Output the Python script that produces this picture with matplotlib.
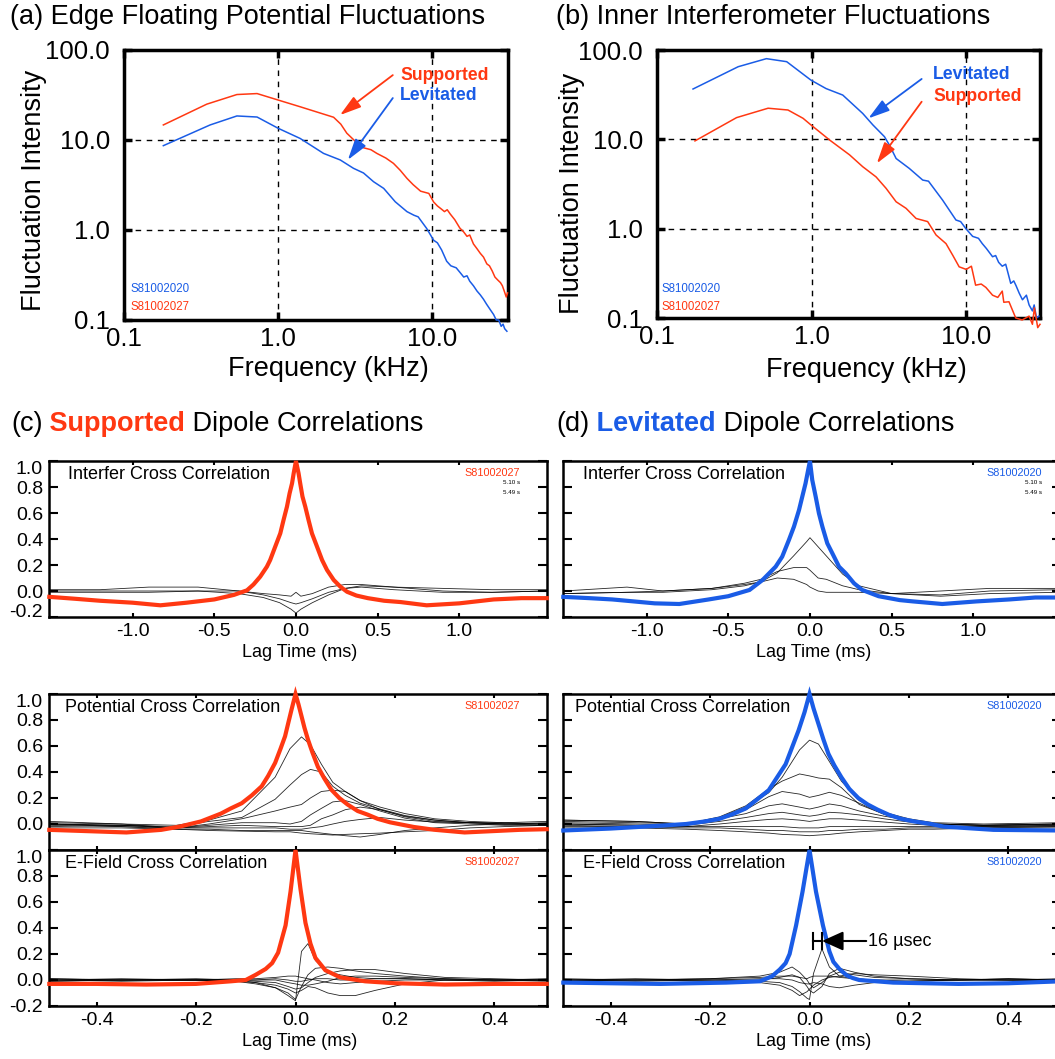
import matplotlib.pyplot as plt

plt.rcParams['font.family'] = ['Liberation Sans', 'DejaVu Sans']

RED = '#ff3812'
BLUE = '#1a5ce6'

# ---------------- (a) edge floating potential spectra
a_lev_freq = [0.18, 0.362, 0.54, 0.73, 1.0, 1.39, 1.97, 2.53, 3.08, 3.58, 4.16, 4.84,
              5.75, 6.85, 7.6, 8.1, 9.2, 10.2, 10.8, 11.5, 12.4, 13.2, 14.3, 15.3, 16.0,
              16.8, 17.5, 18.5, 19.5, 20.5, 21.5, 22.5, 23.8, 25.0, 26.0, 27.0, 28.0,
              28.8, 29.5, 30.5]
a_lev_amp = [8.65, 14.7, 18.5, 18.0, 13.5, 10.4, 7.1, 6.0, 4.85, 4.3, 3.44, 2.9,
             2.06, 1.6, 1.46, 1.4, 1.04, 0.77, 0.72, 0.6, 0.45, 0.4, 0.38, 0.33, 0.3,
             0.31, 0.27, 0.24, 0.21, 0.19, 0.17, 0.15, 0.13, 0.115, 0.1, 0.1, 0.085,
             0.09, 0.08, 0.075]
a_sup_freq = [0.18, 0.344, 0.54, 0.73, 1.0, 1.39, 2.29, 2.55, 2.79, 3.2, 3.58, 4.0,
              4.37, 5.0, 5.6, 6.2, 6.85, 7.5, 8.4, 9.5, 10.2, 10.8, 11.5, 12.0, 12.5,
              13.1, 14.0, 15.1, 16.0, 16.8, 17.5, 18.5, 19.5, 20.5, 21.5, 22.6, 23.5,
              24.5, 25.5, 26.5, 27.7, 28.5, 29.3, 30.2, 30.8]
a_sup_amp = [14.7, 25.0, 32.0, 32.8, 27.8, 23.4, 17.9, 15.0, 11.9, 9.5, 8.2, 7.8,
             7.1, 6.3, 5.5, 4.6, 3.75, 3.2, 2.7, 2.55, 2.05, 1.85, 1.7, 1.6, 1.68,
             1.5, 1.3, 1.05, 0.95, 0.85, 0.88, 0.7, 0.62, 0.55, 0.5, 0.42, 0.4,
             0.35, 0.3, 0.28, 0.26, 0.24, 0.21, 0.18, 0.2]

# ---------------- (b) inner interferometer spectra
b_lev_freq = [0.171, 0.335, 0.51, 0.69, 0.99, 1.24, 1.59, 2.14, 2.49, 2.96, 3.2, 3.52,
              4.28, 5.23, 5.7, 7.03, 8.58, 9.2, 9.95, 11.0, 12.0, 12.7, 13.5, 14.8,
              15.5, 16.2, 17.1, 18.0, 19.4, 20.3, 21.0, 22.0, 23.1, 24.5, 25.5, 26.8,
              27.5, 28.5, 29.5]
b_lev_amp = [36.6, 65, 80, 74, 46, 37, 31.3, 19.5, 14.5, 10.7, 8.5, 6.1,
             4.73, 3.5, 3.4, 2.09, 1.25, 1.2, 1.0, 0.82, 0.78, 0.68, 0.6, 0.485,
             0.5, 0.42, 0.38, 0.4, 0.244, 0.26, 0.23, 0.19, 0.16, 0.18, 0.14, 0.12,
             0.14, 0.1, 0.105]
b_sup_freq = [0.176, 0.327, 0.523, 0.703, 0.88, 0.99, 1.31, 1.76, 2.14, 2.61, 3.03,
              3.52, 4.08, 4.74, 5.63, 6.38, 7.4, 8.2, 9.0, 10.0, 10.8, 11.5, 12.5,
              13.4, 14.8, 16.0, 17.1, 17.5, 18.9, 20.9, 23.0, 25.5, 26.8, 27.6, 29.0,
              30.0]
b_sup_amp = [9.6, 17.5, 22.3, 21.3, 17.2, 14.5, 9.8, 6.7, 4.94, 3.8, 2.83,
             2.0, 1.69, 1.3, 1.2, 0.85, 0.68, 0.5, 0.374, 0.35, 0.38, 0.233, 0.24,
             0.22, 0.18, 0.17, 0.2, 0.15, 0.152, 0.1, 0.095, 0.105, 0.085, 0.13, 0.078,
             0.085]

spec_xticks = [0.1, 1.0, 10.0]
spec_xlabels = ['0.1', '1.0', '10.0']
spec_yticks = [0.1, 1.0, 10.0, 100.0]
spec_ylabels = ['0.1', '1.0', '10.0', '100.0']

# ---------------- correlation panels (lag in ms)
# (c) supported, interferometer
c_int_lag = [-1.51, -1.35, -1.2, -1.0, -0.83, -0.67, -0.5, -0.38, -0.3, -0.26, -0.219,
             -0.178, -0.158, -0.127, -0.096, -0.076, -0.055, -0.039, -0.024, -0.014, 0.0,
             0.016, 0.026, 0.04, 0.057, 0.077, 0.098, 0.129, 0.16, 0.19, 0.231, 0.272,
             0.313, 0.37, 0.44, 0.54, 0.64, 0.8, 1.0, 1.21, 1.38, 1.535]
c_int_main = [-0.045, -0.06, -0.075, -0.09, -0.11, -0.09, -0.065, -0.03, 0.005, 0.05,
              0.11, 0.187, 0.238, 0.341, 0.443, 0.546, 0.649, 0.751, 0.828, 0.905, 1.0,
              0.905, 0.828, 0.726, 0.649, 0.546, 0.443, 0.341, 0.238, 0.162, 0.085, 0.033,
              -0.006, -0.035, -0.055, -0.075, -0.085, -0.11, -0.095, -0.065, -0.055, -0.055]
c_int_blag = [-1.51, -1.2, -0.9, -0.6, -0.35, -0.2, -0.1, -0.03, 0.0, 0.03, 0.1, 0.2,
              0.3, 0.4, 0.6, 0.9, 1.2, 1.535]
c_int_black = [
    [0.01, 0.01, 0.03, 0.03, 0.0, -0.02, -0.03, -0.04, -0.01, -0.04, -0.02, 0.03,
     0.05, 0.05, 0.03, 0.02, 0.01, 0.01],
    [0.0, 0.0, 0.0, 0.0, 0.0, -0.03, -0.06, -0.09, -0.1, -0.09, -0.06, -0.01,
     0.02, 0.03, 0.01, -0.01, -0.01, 0.0],
    [-0.01, -0.01, -0.01, 0.0, -0.02, -0.05, -0.09, -0.14, -0.17, -0.14, -0.09, -0.03,
     0.02, 0.04, 0.03, 0.0, -0.01, 0.0],
]

# (d) levitated, interferometer
d_int_lag = [-1.51, -1.35, -1.21, -0.95, -0.8, -0.62, -0.5, -0.37, -0.29, -0.21, -0.17,
             -0.129, -0.098, -0.067, -0.047, -0.027, -0.011, 0.0, 0.014, 0.035, 0.055,
             0.076, 0.106, 0.137, 0.178, 0.219, 0.27, 0.32, 0.42, 0.55, 0.63, 0.81, 1.02,
             1.22, 1.38, 1.535]
d_int_main = [-0.045, -0.055, -0.065, -0.095, -0.1, -0.065, -0.04, 0.008, 0.085, 0.187,
              0.264, 0.392, 0.495, 0.623, 0.726, 0.828, 0.931, 1.0, 0.854, 0.726, 0.597,
              0.495, 0.367, 0.29, 0.187, 0.136, 0.059, 0.008, -0.04, -0.07, -0.08, -0.1,
              -0.08, -0.065, -0.05, -0.05]
d_int_blag = [-1.51, -1.12, -0.9, -0.6, -0.4, -0.3, -0.2, -0.1, -0.02, 0.0, 0.05, 0.1,
              0.2, 0.3, 0.5, 0.8, 1.1, 1.535]
d_int_black = [
    [-0.02, -0.01, -0.01, 0.01, 0.04, 0.07, 0.14, 0.27, 0.38, 0.41, 0.34, 0.27,
     0.13, 0.04, -0.02, -0.04, -0.02, -0.01],
    [0.0, 0.03, 0.0, 0.02, 0.06, 0.09, 0.15, 0.18, 0.18, 0.16, 0.1, 0.09,
     0.04, 0.01, -0.02, -0.03, 0.0, 0.01],
    [-0.02, -0.01, 0.0, 0.02, 0.05, 0.07, 0.1, 0.09, 0.05, 0.03, 0.0, -0.01,
     -0.01, -0.01, -0.02, 0.0, 0.02, 0.02],
]

# (c) supported, floating potential
c_pot_lag = [-0.495, -0.34, -0.27, -0.233, -0.19, -0.15, -0.13, -0.108, -0.088, -0.068,
             -0.055, -0.041, -0.03, -0.021, -0.015, -0.008, 0.0, 0.006, 0.012, 0.018,
             0.025, 0.034, 0.045, 0.058, 0.072, 0.088, 0.105, 0.125, 0.145, 0.165, 0.19,
             0.238, 0.278, 0.34, 0.45, 0.505]
c_pot_main = [-0.045, -0.065, -0.045, -0.02, 0.02, 0.08, 0.12, 0.16, 0.22, 0.29, 0.37,
              0.47, 0.58, 0.675, 0.77, 0.88, 1.0, 0.92, 0.83, 0.74, 0.65, 0.55, 0.44,
              0.35, 0.264, 0.2, 0.149, 0.1, 0.072, 0.04, 0.013, -0.023, -0.044, -0.065,
              -0.045, -0.04]
c_pot_blag = [-0.495, -0.35, -0.24, -0.174, -0.108, -0.041, -0.011, 0.012, 0.03, 0.052,
              0.075, 0.1, 0.13, 0.17, 0.22, 0.28, 0.35, 0.42, 0.505]
c_pot_black = [
    [0.01, 0.0, -0.01, 0.03, 0.10, 0.36, 0.58, 0.67, 0.61, 0.46, 0.32, 0.25, 0.18,
     0.13, 0.08, 0.04, 0.02, 0.01, 0.0],
    [0.0, -0.01, -0.02, 0.02, 0.05, 0.19, 0.3, 0.38, 0.42, 0.4, 0.29, 0.22, 0.16,
     0.115, 0.065, 0.03, 0.01, 0.0, 0.0],
    [0.0, -0.01, -0.03, 0.0, 0.04, 0.1, 0.13, 0.15, 0.2, 0.25, 0.26, 0.25, 0.18,
     0.11, 0.055, 0.02, 0.01, 0.0, -0.01],
    [-0.01, -0.02, -0.03, -0.01, 0.01, 0.01, 0.0, 0.02, 0.07, 0.12, 0.17, 0.18, 0.15,
     0.1, 0.045, 0.01, 0.0, -0.01, -0.01],
    [0.02, 0.0, -0.03, -0.02, -0.01, -0.02, -0.02, -0.02, -0.01, 0.04, 0.07, 0.11, 0.13,
     0.11, 0.06, 0.03, 0.01, 0.0, 0.0],
    [-0.02, -0.01, -0.03, -0.03, -0.03, -0.03, -0.04, -0.04, -0.03, -0.02, 0.0, 0.02,
     0.035, 0.05, 0.03, 0.015, 0.01, 0.01, 0.02],
    [0.0, -0.02, -0.04, -0.04, -0.05, -0.05, -0.05, -0.05, -0.06, -0.07, -0.08, -0.09,
     -0.1, -0.08, -0.05, -0.03, -0.01, 0.0, 0.01],
    [-0.03, -0.03, -0.04, -0.05, -0.055, -0.06, -0.06, -0.07, -0.075, -0.08, -0.085,
     -0.08, -0.075, -0.07, -0.06, -0.05, -0.03, -0.02, -0.01],
]

# (d) levitated, floating potential
d_pot_lag = [-0.495, -0.4, -0.3, -0.248, -0.21, -0.181, -0.155, -0.128, -0.105, -0.082,
             -0.065, -0.048, -0.035, -0.022, -0.01, 0.0, 0.008, 0.018, 0.028, 0.038,
             0.05, 0.064, 0.08, 0.098, 0.117, 0.137, 0.16, 0.184, 0.21, 0.244, 0.27,
             0.37, 0.505]
d_pot_main = [-0.05, -0.035, -0.013, 0.0, 0.02, 0.04, 0.075, 0.12, 0.19, 0.26, 0.36,
              0.46, 0.59, 0.72, 0.86, 1.0, 0.89, 0.77, 0.65, 0.54, 0.45, 0.36, 0.27,
              0.2, 0.15, 0.11, 0.07, 0.04, 0.02, 0.0, -0.02, -0.045, -0.05]
d_pot_blag = [-0.495, -0.35, -0.248, -0.181, -0.128, -0.082, -0.055, -0.02, 0.0, 0.018,
              0.04, 0.064, 0.1, 0.15, 0.2, 0.25, 0.35, 0.505]
d_pot_black = [
    [0.03, 0.02, 0.0, 0.05, 0.13, 0.24, 0.36, 0.57, 0.645, 0.615, 0.48, 0.33, 0.18,
     0.09, 0.04, 0.01, 0.0, 0.01],
    [0.03, 0.02, 0.0, 0.055, 0.14, 0.27, 0.33, 0.385, 0.37, 0.354, 0.345, 0.28, 0.15,
     0.075, 0.03, 0.0, -0.01, 0.0],
    [0.02, 0.01, 0.0, 0.04, 0.11, 0.21, 0.25, 0.23, 0.205, 0.22, 0.244, 0.22, 0.16,
     0.075, 0.03, 0.0, -0.01, 0.0],
    [0.01, 0.0, -0.01, 0.04, 0.08, 0.14, 0.155, 0.13, 0.115, 0.13, 0.154, 0.14, 0.1,
     0.06, 0.03, 0.0, -0.01, 0.0],
    [0.0, -0.01, -0.01, 0.02, 0.05, 0.08, 0.09, 0.07, 0.06, 0.07, 0.09, 0.085, 0.07,
     0.04, 0.015, 0.0, -0.01, -0.01],
    [0.0, -0.01, -0.02, 0.0, 0.02, 0.035, 0.04, 0.03, 0.02, 0.03, 0.04, 0.04, 0.03,
     0.015, 0.0, -0.01, -0.02, -0.01],
    [-0.01, -0.02, -0.02, -0.02, -0.02, -0.02, -0.02, -0.03, -0.03, -0.03, -0.02, -0.02,
     -0.02, -0.02, -0.02, -0.02, -0.02, -0.02],
    [-0.02, -0.02, -0.03, -0.03, -0.04, -0.05, -0.05, -0.06, -0.06, -0.06, -0.05, -0.05,
     -0.04, -0.04, -0.03, -0.03, -0.03, -0.02],
    [-0.03, -0.03, -0.04, -0.05, -0.06, -0.07, -0.08, -0.085, -0.09, -0.085, -0.08,
     -0.07, -0.06, -0.05, -0.04, -0.04, -0.03, -0.03],
]

# (c) supported, E-field
c_ef_lag = [-0.495, -0.4, -0.3, -0.2, -0.13, -0.1, -0.08, -0.06, -0.047, -0.035, -0.02,
            -0.01, 0.0, 0.01, 0.02, 0.03, 0.04, 0.06, 0.09, 0.14, 0.2, 0.3, 0.4, 0.505]
c_ef_main = [-0.03, -0.03, -0.035, -0.03, -0.01, 0.0, 0.04, 0.085, 0.13, 0.21, 0.42,
             0.68, 1.0, 0.7, 0.44, 0.28, 0.17, 0.075, 0.02, -0.01, -0.025, -0.035,
             -0.03, -0.03]
c_ef_blag = [-0.495, -0.35, -0.2, -0.12, -0.08, -0.04, -0.015, 0.0, 0.012, 0.025, 0.04,
             0.065, 0.09, 0.12, 0.16, 0.22, 0.3, 0.4, 0.505]
c_ef_black = [
    [0.01, 0.0, 0.0, 0.0, -0.02, -0.06, -0.12, -0.16, 0.22, 0.28, 0.15, 0.06, 0.04,
     0.02, 0.01, 0.01, 0.0, 0.0, 0.0],
    [0.0, 0.0, 0.0, -0.01, -0.03, -0.06, -0.1, -0.15, -0.05, 0.04, 0.09, 0.1, 0.09,
     0.07, 0.05, 0.03, 0.01, 0.0, 0.0],
    [-0.01, 0.0, 0.0, -0.01, -0.02, -0.04, -0.07, -0.1, -0.08, -0.05, -0.06, -0.1,
     -0.12, -0.12, -0.08, -0.03, 0.0, 0.0, 0.0],
    [0.0, 0.01, 0.0, 0.0, -0.01, -0.02, -0.05, -0.07, -0.06, -0.02, 0.02, 0.05, 0.07,
     0.08, 0.08, 0.05, 0.02, 0.01, 0.0],
    [0.01, 0.0, 0.01, 0.0, 0.0, 0.0, -0.02, -0.03, -0.04, -0.04, -0.03, -0.01, 0.02,
     0.03, 0.03, 0.02, 0.01, 0.0, 0.01],
    [-0.01, 0.0, 0.0, 0.01, 0.01, 0.02, 0.03, 0.03, 0.02, 0.01, 0.0, -0.02, -0.03,
     -0.02, -0.01, 0.0, 0.0, 0.0, -0.01],
    [0.0, -0.01, 0.0, 0.0, 0.0, 0.01, 0.0, -0.01, -0.01, 0.0, 0.01, 0.01, 0.0, 0.0,
     0.01, 0.01, 0.0, -0.01, 0.0],
]

# (d) levitated, E-field
d_ef_lag = [-0.495, -0.4, -0.3, -0.168, -0.1, -0.087, -0.075, -0.06, -0.048, -0.04,
            -0.027, -0.014, 0.0, 0.013, 0.027, 0.04, 0.048, 0.06, 0.075, 0.087, 0.1,
            0.168, 0.3, 0.4, 0.505]
d_ef_main = [-0.02, -0.025, -0.03, -0.02, -0.01, 0.01, 0.03, 0.08, 0.13, 0.2, 0.42,
             0.68, 1.0, 0.68, 0.42, 0.22, 0.14, 0.085, 0.035, 0.015, 0.0, -0.02,
             -0.03, -0.025, -0.01]
d_ef_blag = [-0.495, -0.35, -0.2, -0.1, -0.06, -0.035, -0.02, -0.005, 0.0, 0.008, 0.025,
             0.04, 0.06, 0.09, 0.13, 0.2, 0.3, 0.4, 0.505]
d_ef_black = [
    [0.0, 0.0, 0.0, -0.01, -0.02, -0.05, -0.09, -0.14, -0.15, 0.05, 0.24, 0.1, 0.03,
     0.01, 0.0, 0.0, 0.0, 0.0, 0.0],
    [0.01, 0.0, 0.01, 0.03, 0.06, 0.1, 0.06, 0.0, -0.03, -0.06, -0.02, 0.03, 0.06,
     0.04, 0.02, 0.01, 0.0, 0.0, 0.01],
    [0.0, 0.01, 0.0, 0.0, 0.02, 0.04, 0.02, -0.05, -0.08, -0.1, -0.05, 0.05, 0.09,
     0.06, 0.03, 0.01, 0.0, 0.01, 0.0],
    [-0.01, 0.0, -0.01, -0.02, -0.04, -0.08, -0.12, -0.09, -0.07, -0.04, 0.0, 0.02,
     0.03, 0.05, 0.04, 0.03, 0.01, 0.0, -0.01],
    [0.0, -0.01, 0.0, 0.01, 0.01, 0.0, -0.02, -0.03, -0.03, -0.02, -0.03, -0.05,
     -0.06, -0.04, -0.02, -0.01, 0.0, 0.0, 0.0],
    [0.0, 0.0, 0.01, 0.02, 0.03, 0.03, 0.02, 0.01, 0.02, 0.03, 0.03, 0.03, 0.02, 0.01,
     0.0, -0.01, 0.0, 0.01, 0.0],
]

corr_yticks = [-0.2, 0.0, 0.2, 0.4, 0.6, 0.8, 1.0]
corr_ylabels = ['-0.2', '0.0', '0.2', '0.4', '0.6', '0.8', '1.0']
wide_xticks = [-1.0, -0.5, 0.0, 0.5, 1.0]
wide_xlabels = ['-1.0', '-0.5', '0.0', '0.5', '1.0']
narrow_xticks = [-0.4, -0.2, 0.0, 0.2, 0.4]
narrow_xlabels = ['-0.4', '-0.2', '0.0', '0.2', '0.4']

W, H = 1055, 1059
fig = plt.figure(figsize=(W / 100, H / 100), dpi=100)


def px_axes(left, top, right, bottom):
    return fig.add_axes([left / W, 1 - bottom / H, (right - left) / W, (bottom - top) / H])


def spectrum_panel(box, xmax, curves, ylab_pos, xlab_pos, notes, ids):
    ax = px_axes(*box)
    for freq, amp, col in curves:
        ax.plot(freq, amp, color=col, lw=1.1, clip_on=False, zorder=3)
    ax.set_xscale('log')
    ax.set_yscale('log')
    ax.set_xlim(0.1, xmax)
    ax.set_ylim(0.1, 100)
    ax.set_xticks(spec_xticks, spec_xlabels)
    ax.set_yticks(spec_yticks, spec_ylabels)
    ax.minorticks_off()
    for v in (1.0, 10.0):
        ax.axvline(v, color='k', lw=1, ls=(0, (4, 4)), zorder=1)
        ax.axhline(v, color='k', lw=1, ls=(0, (4, 4)), zorder=1)
    ax.tick_params(direction='in', length=6, width=2.5, top=True, right=True,
                   labelsize=18.5)
    ax.tick_params(axis='y', pad=10)
    ax.tick_params(axis='x', pad=5)
    for s in ax.spines.values():
        s.set_linewidth(2.5)
    ax.set_ylabel('Fluctuation Intensity', fontsize=19.5)
    ax.yaxis.set_label_coords(*ylab_pos)
    ax.set_xlabel('Frequency (kHz)', fontsize=19.5)
    ax.xaxis.set_label_coords(*xlab_pos)
    for text, col, txy, tail, tip in notes:
        ax.text(txy[0], txy[1], text, color=col, fontsize=12.7, fontweight='bold',
                va='center', transform=ax.transAxes)
        ax.annotate('', xy=tip, xytext=tail, xycoords='axes fraction',
                    arrowprops=dict(arrowstyle='-|>,head_length=1.0,head_width=0.3',
                                    mutation_scale=13, color=col, lw=1.3,
                                    shrinkA=0, shrinkB=0))
    for text, col, xy in ids:
        ax.text(xy[0], xy[1], text, color=col, fontsize=8.3, va='center',
                transform=ax.transAxes)
    return ax


spectrum_panel((124, 50, 508, 320), 31.0,
               [(a_sup_freq, a_sup_amp, RED), (a_lev_freq, a_lev_amp, BLUE)],
               (-0.2, 0.48), (0.531, -0.135),
               [('Supported', RED, (0.719, 0.907), (0.70, 0.907), (0.5625, 0.759)),
                ('Levitated', BLUE, (0.719, 0.83), (0.70, 0.822), (0.583, 0.593))],
               [('S81002020', BLUE, (0.016, 0.115)), ('S81002027', RED, (0.016, 0.048))])
spectrum_panel((657, 50, 1040, 318), 30.0,
               [(b_lev_freq, b_lev_amp, BLUE), (b_sup_freq, b_sup_amp, RED)],
               (-0.187, 0.465), (0.546, -0.147),
               [('Levitated', BLUE, (0.721, 0.907), (0.691, 0.892), (0.552, 0.745)),
                ('Supported', RED, (0.721, 0.828), (0.691, 0.807), (0.574, 0.577))],
               [('S81002020', BLUE, (0.012, 0.108)), ('S81002027', RED, (0.012, 0.041))])


def corr_panel(box, xlim, xticks, xlabels, lag, main, col, blag, black, label, label_x,
               tag, show_ylabels, ylabels, show_xlabels, top_panel=False):
    ax = px_axes(*box)
    for vals in black:
        ax.plot(blag, vals, color='k', lw=0.6, alpha=0.85, zorder=2)
    ax.plot(lag, main, color=col, lw=3.0, solid_joinstyle='miter', clip_on=False,
            zorder=3)
    ax.set_xlim(*xlim)
    ax.set_ylim(-0.2, 1.0)
    ax.set_yticks(corr_yticks, ylabels)
    ax.set_xticks(xticks, xlabels if show_xlabels else [])
    ax.tick_params(direction='in', top=True, right=True, labelsize=14, width=1.5)
    ax.tick_params(axis='y', length=6.5, pad=4.5, labelleft=show_ylabels)
    ax.tick_params(axis='x', length=3, pad=4.5, labelbottom=show_xlabels)
    for s in ax.spines.values():
        s.set_linewidth(1.8)
    if show_ylabels:
        labs = ax.get_yticklabels()
        labs[-1].set_va('top')
        if top_panel:
            labs[0].set_va('baseline')
    if show_xlabels:
        ax.set_xlabel('Lag Time (ms)', fontsize=13)
        ax.xaxis.set_label_coords(0.503, -0.175)
    ax.text(label_x, 0.915, label, fontsize=13, va='center', transform=ax.transAxes)
    tag_x = 0.946 if box[0] < 500 else 0.962
    ax.text(tag_x, 0.925, tag, color=col, fontsize=7.8, ha='right', va='center',
            transform=ax.transAxes)
    if top_panel:
        ax.text(tag_x, 0.859, '5.10 s', fontsize=4.5, ha='right', va='center',
                transform=ax.transAxes)
        ax.text(tag_x, 0.795, '5.49 s', fontsize=4.5, ha='right', va='center',
                transform=ax.transAxes)
    return ax


wide = (-1.51, 1.535)
narrow = (-0.495, 0.505)
pot_ylabels = [''] + corr_ylabels[1:]
no_ylabels = [''] * len(corr_yticks)
lc, rc = 49.3, 546.7
ld, rd = 563.3, 1060.7

corr_panel((lc, 461, rc, 617), wide, wide_xticks, wide_xlabels, c_int_lag, c_int_main,
           RED, c_int_blag, c_int_black, 'Interfer Cross Correlation', 0.038,
           'S81002027', True, corr_ylabels, True, top_panel=True)
corr_panel((lc, 694, rc, 850), narrow, narrow_xticks, narrow_xlabels, c_pot_lag,
           c_pot_main, RED, c_pot_blag, c_pot_black, 'Potential Cross Correlation',
           0.032, 'S81002027', True, pot_ylabels, False)
corr_panel((lc, 850, rc, 1006), narrow, narrow_xticks, narrow_xlabels, c_ef_lag,
           c_ef_main, RED, c_ef_blag, c_ef_black, 'E-Field Cross Correlation',
           0.032, 'S81002027', True, corr_ylabels, True)

corr_panel((ld, 461, rd, 617), wide, wide_xticks, wide_xlabels, d_int_lag, d_int_main,
           BLUE, d_int_blag, d_int_black, 'Interfer Cross Correlation', 0.039,
           'S81002020', False, no_ylabels, True, top_panel=True)
corr_panel((ld, 694, rd, 850), narrow, narrow_xticks, narrow_xlabels, d_pot_lag,
           d_pot_main, BLUE, d_pot_blag, d_pot_black, 'Potential Cross Correlation',
           0.024, 'S81002020', False, no_ylabels, False)
ax_def = corr_panel((ld, 850, rd, 1006), narrow, narrow_xticks, narrow_xlabels, d_ef_lag,
                    d_ef_main, BLUE, d_ef_blag, d_ef_black, 'E-Field Cross Correlation',
                    0.039, 'S81002020', False, no_ylabels, True)

# 16 usec delay marker
y_mark = 0.3
ax_def.plot([0.007, 0.025], [y_mark, y_mark], color='k', lw=1.5, zorder=4)
for xb in (0.007, 0.025):
    ax_def.plot([xb, xb], [y_mark - 0.058, y_mark + 0.058], color='k', lw=1.5, zorder=4)
ax_def.annotate('', xy=(0.025, y_mark), xytext=(0.114, y_mark),
                arrowprops=dict(arrowstyle='-|>,head_length=1.0,head_width=0.45',
                                mutation_scale=13, color='k', lw=1.5,
                                shrinkA=0, shrinkB=0), zorder=4)
ax_def.text(0.118, y_mark, '16 µsec', fontsize=13, va='center')

# titles
renderer = fig.canvas.get_renderer()


def title(x_px, y_px, parts):
    x = x_px / W
    for text, color, weight in parts:
        t = fig.text(x, 1 - y_px / H, text, color=color, fontweight=weight,
                     fontsize=19.5, va='center')
        x += t.get_window_extent(renderer).width / W


title(10, 17, [('(a) Edge Floating Potential Fluctuations', 'k', 'normal')])
title(556, 17, [('(b) Inner Interferometer Fluctuations', 'k', 'normal')])
title(11, 424, [('(c)', 'k', 'normal'), (' Supported', RED, 'bold'),
                (' Dipole Correlations', 'k', 'normal')])
title(556, 424, [('(d)', 'k', 'normal'), (' Levitated', BLUE, 'bold'),
                 (' Dipole Correlations', 'k', 'normal')])

fig.savefig('out.png', dpi=100)
